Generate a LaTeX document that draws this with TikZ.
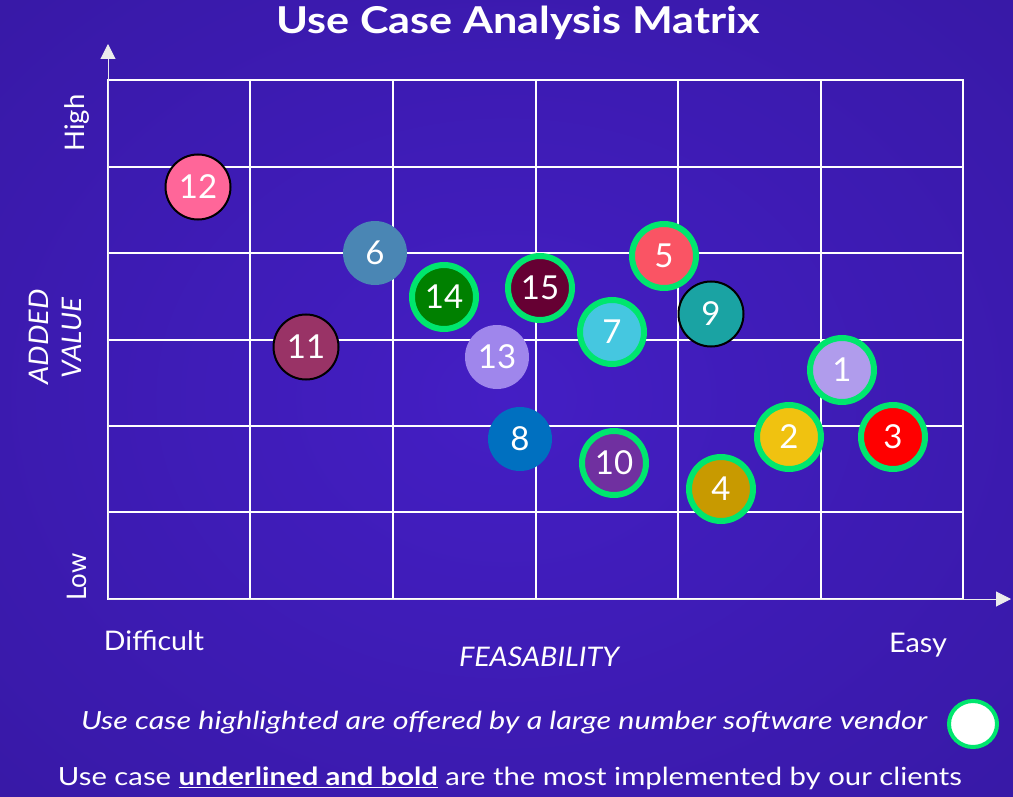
\documentclass[tikz,border=0pt]{standalone}
\usepackage{fontspec}
\usepackage{graphicx}
\setmainfont{Lato}
\usetikzlibrary{arrows.meta,shapes.geometric}
\definecolor{bgin}{RGB}{68,30,196}
\definecolor{bgout}{RGB}{44,20,138}
\definecolor{hl}{RGB}{0,230,110}
\definecolor{c1}{RGB}{176,156,236}
\definecolor{c2}{RGB}{240,194,16}
\definecolor{c3}{RGB}{255,0,0}
\definecolor{c4}{RGB}{200,154,0}
\definecolor{c5}{RGB}{250,84,100}
\definecolor{c6}{RGB}{74,134,180}
\definecolor{c7}{RGB}{69,199,224}
\definecolor{c8}{RGB}{0,112,192}
\definecolor{c9}{RGB}{26,163,163}
\definecolor{c10}{RGB}{112,48,160}
\definecolor{c11}{RGB}{153,51,102}
\definecolor{c12}{RGB}{255,102,153}
\definecolor{c13}{RGB}{159,134,236}
\definecolor{c14}{RGB}{0,128,0}
\definecolor{c15}{RGB}{102,0,51}
\newcommand{\fitw}[2]{\resizebox{#1}{\height}{#2}}
\tikzset{
  uc/.style={circle, inner sep=0pt, minimum size=64pt, text=white, font=\fontsize{33}{33}\selectfont},
  ucg/.style={uc, minimum size=64pt, draw=hl, line width=6pt},
  ucb/.style={uc, minimum size=65pt, draw=black, line width=2pt},
  grid/.style={white, line width=1.8pt},
  axis/.style={white!85!gray, line width=1pt, -{Triangle[width=15pt,length=15pt]}},
  lbl/.style={text=white, inner sep=0pt, font=\fontsize{27}{27}\selectfont}
}
\begin{document}
\begin{tikzpicture}[x=1pt,y=-1pt]
\useasboundingbox (0,0) rectangle (1013,797);
\begin{scope}
\clip (0,0) rectangle (1013,797);
\shade[inner color=bgin, outer color=bgout] (-894,-722) rectangle (1906,1518);
\end{scope}
% title
\node[text=white, inner sep=0pt, font=\fontsize{37}{37}\selectfont\bfseries] (title) at (518,23) {\fitw{483pt}{Use Case Analysis Matrix}};
% grid
\foreach \x in {250,393,536,678,821} \draw[grid] (\x,80) -- (\x,599);
\foreach \y in {167,253,340,426,512} \draw[grid] (108,\y) -- (963,\y);
\draw[grid] (108,80) rectangle (963,599);
% axes
\coordinate (o) at (108,599);
\coordinate (ytip) at (108,44);
\coordinate (xtip) at (1011,599);
\draw[axis] (o) -- (ytip);
\draw[axis] (o) -- (xtip);
% axis labels
\node[lbl, rotate=90] (high) at (77,123) {\fitw{57pt}{High}};
\node[lbl, rotate=90] (low) at (77,577) {\fitw{47pt}{Low}};
\node[lbl, rotate=90, font=\fontsize{27}{27}\selectfont\itshape] (av1) at (39,337) {\fitw{95pt}{ADDED}};
\node[lbl, rotate=90, font=\fontsize{27}{27}\selectfont\itshape] (av2) at (72,338) {\fitw{80pt}{VALUE}};
\node[lbl] (diff) at (154,641) {\fitw{100pt}{Difficult}};
\node[lbl] (easy) at (918,645) {\fitw{58pt}{Easy}};
\node[lbl, font=\fontsize{27}{27}\selectfont\itshape] (feas) at (539,657) {\fitw{160pt}{FEASABILITY}};
% use cases
\node[ucb, fill=c12] (u12) at (198,187) {12};
\node[uc, fill=c6] (u6) at (375,253) {6};
\node[ucg, fill=c14] (u14) at (444,297) {14};
\node[ucg, fill=c15] (u15) at (540,288) {15};
\node[ucg, fill=c5] (u5) at (664,256) {5};
\node[ucb, fill=c9] (u9) at (711,314) {9};
\node[ucb, fill=c11] (u11) at (306,347) {11};
\node[uc, fill=c13] (u13) at (497,357) {13};
\node[ucg, fill=c7] (u7) at (612,332) {7};
\node[ucg, fill=c1] (u1) at (842,370) {1};
\node[uc, fill=c8] (u8) at (520,439) {8};
\node[ucg, fill=c10] (u10) at (614,463) {10};
\node[ucg, fill=c4] (u4) at (721,489) {4};
\node[ucg, fill=c2] (u2) at (789,437) {2};
\node[ucg, fill=c3] (u3) at (893,437) {3};
% legend
\node[lbl, font=\fontsize{25}{25}\selectfont\itshape] (leg1) at (504,723) {\fitw{846pt}{Use case highlighted are offered by a large number software vendor}};
\node[ellipse, draw=hl, line width=4pt, fill=white, minimum width=48pt, minimum height=46pt, inner sep=0pt] (legc) at (973,724) {};
\node[lbl, font=\fontsize{25}{25}\selectfont] (leg2) at (510,778) {\fitw{904pt}{Use case \underline{\textbf{underlined and bold}} are the most implemented by our clients}};
\end{tikzpicture}
\end{document}
